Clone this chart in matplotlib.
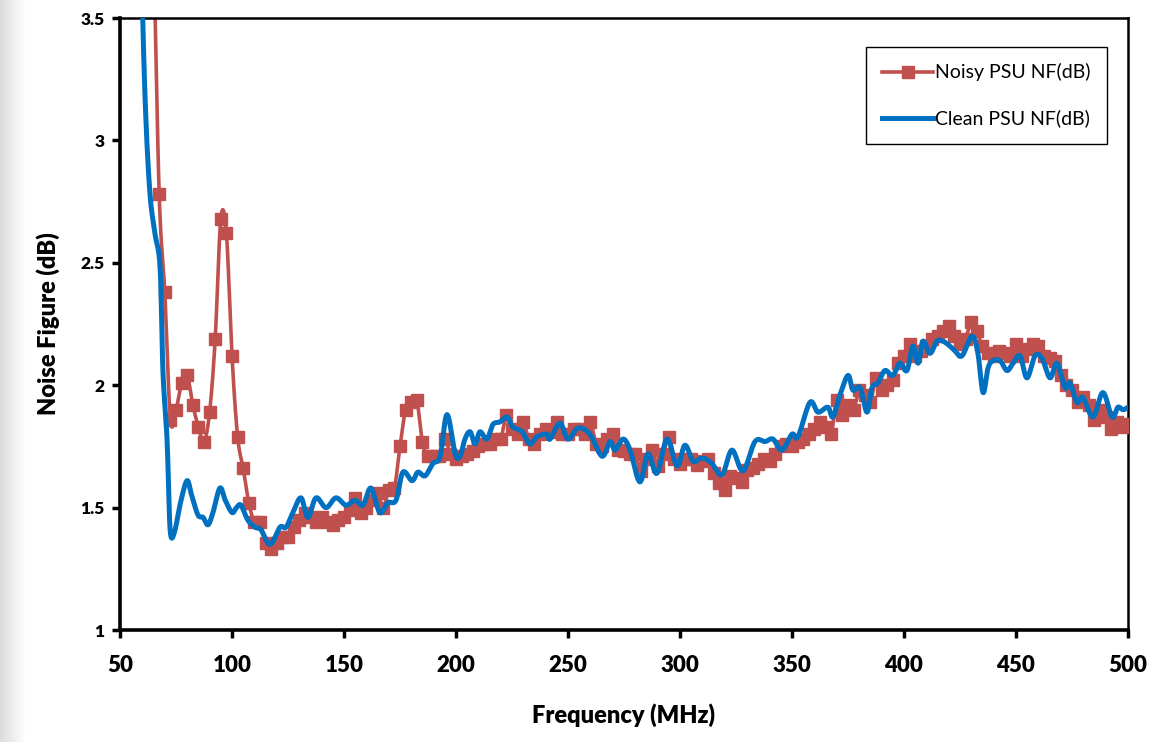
import numpy as np
import matplotlib
matplotlib.use("Agg")
import matplotlib.pyplot as plt
from matplotlib.lines import Line2D

# Noisy PSU: one reading every 2.5 MHz from 60 to 500 MHz
noisy_freq = np.arange(60, 502.5, 2.5)
noisy_nf = [
    6.0, 4.8, 3.8, 2.78, 2.38, 1.86, 1.90, 2.01, 2.04, 1.92,
    1.83, 1.77, 1.89, 2.19, 2.68, 2.62, 2.12, 1.79, 1.66, 1.52,
    1.44, 1.44, 1.355, 1.33, 1.355, 1.38, 1.38, 1.42, 1.45, 1.48,
    1.46, 1.44, 1.46, 1.44, 1.43, 1.45, 1.46, 1.49, 1.54, 1.48,
    1.50, 1.53, 1.56, 1.50, 1.57, 1.58, 1.75, 1.90, 1.93, 1.94,
    1.77, 1.71, 1.71, 1.71, 1.78, 1.72, 1.70, 1.71, 1.72, 1.73,
    1.75, 1.76, 1.76, 1.78, 1.78, 1.88, 1.82, 1.80, 1.85, 1.78,
    1.76, 1.80, 1.82, 1.81, 1.85, 1.80, 1.80, 1.82, 1.82, 1.80,
    1.85, 1.76, 1.75, 1.78, 1.80, 1.735, 1.73, 1.72, 1.72, 1.65,
    1.70, 1.735, 1.67, 1.72, 1.79, 1.70, 1.68, 1.70, 1.70, 1.675,
    1.69, 1.70, 1.64, 1.60, 1.57, 1.63, 1.62, 1.605, 1.655, 1.66,
    1.68, 1.70, 1.69, 1.72, 1.75, 1.76, 1.75, 1.77, 1.78, 1.80,
    1.82, 1.85, 1.83, 1.80, 1.94, 1.88, 1.92, 1.90, 1.98, 1.96,
    1.93, 2.03, 1.98, 2.00, 2.02, 2.09, 2.12, 2.17, 2.12, 2.14,
    2.16, 2.19, 2.20, 2.22, 2.24, 2.20, 2.17, 2.19, 2.26, 2.22,
    2.16, 2.13, 2.12, 2.14, 2.13, 2.12, 2.17, 2.12, 2.15, 2.17,
    2.16, 2.12, 2.11, 2.10, 2.04, 2.00, 1.98, 1.93, 1.95, 1.92,
    1.86, 1.90, 1.87, 1.82, 1.85, 1.83, 1.84,
]

# Clean PSU: turning points of the trace
clean_freq = [
    58, 60, 61.5, 63.4, 65.6, 67.9, 69.2, 71, 71.9, 72.8, 74.6, 77, 79.9,
    82, 84.8, 87.1, 89.3, 91.5, 94.6, 97, 100, 102, 104, 107, 110.3, 112.9,
    117, 121.4, 124.1, 127.2, 130.8, 133.9, 137.5, 142, 146.4, 150.9, 154.9,
    158.5, 162, 166, 169.6, 173.2, 176.3, 180.4, 183, 186.2, 189.7, 192.9,
    196, 199.6, 201.8, 204, 206.3, 208.5, 210.7, 213.8, 216.5, 219.6, 222.8,
    225.4, 229.5, 233, 236.2, 240.6, 242, 246.4, 250, 254.5, 259.8, 265.2,
    268.8, 271, 274.6, 277.7, 282.1, 285.7, 289.7, 294.2, 298.7, 302.2,
    305.8, 308.9, 311.2, 314.3, 318.8, 323.2, 328.1, 333.5, 338, 341.5,
    345.5, 350, 352.7, 358, 361.6, 366, 368.3, 371.4, 375, 377.2, 380.4,
    383.5, 385.7, 388.4, 391.5, 395, 398.2, 401.3, 404, 406.3, 408.5, 411.6,
    414.7, 417.4, 420.5, 422.8, 425.9, 430.4, 433, 435.3, 437.5, 439.7,
    442.9, 446, 448.7, 451.8, 454.9, 458.5, 461.6, 465.2, 468.3, 471.9,
    474.1, 477.2, 479.9, 484.4, 488.8, 492.9, 495.5, 497.8, 500,
]
clean_nf = [
    4.4, 3.55, 3.1, 2.78, 2.62, 2.48, 2.05, 1.78, 1.50, 1.38, 1.41, 1.52, 1.61,
    1.55, 1.47, 1.46, 1.43, 1.48, 1.58, 1.53, 1.48, 1.50, 1.51, 1.45, 1.42, 1.41,
    1.35, 1.42, 1.42, 1.48, 1.54, 1.46, 1.54, 1.50, 1.54, 1.51, 1.53,
    1.51, 1.58, 1.48, 1.52, 1.53, 1.645, 1.61, 1.645, 1.63, 1.68, 1.71,
    1.88, 1.72, 1.71, 1.78, 1.81, 1.76, 1.81, 1.78, 1.84, 1.85, 1.87,
    1.83, 1.81, 1.76, 1.79, 1.80, 1.78, 1.845, 1.78, 1.825, 1.80, 1.71,
    1.77, 1.735, 1.78, 1.735, 1.605, 1.72, 1.64, 1.78, 1.67, 1.755,
    1.69, 1.70, 1.70, 1.68, 1.635, 1.735, 1.65, 1.77, 1.77, 1.78,
    1.735, 1.80, 1.79, 1.93, 1.89, 1.91, 1.87, 1.96, 2.04, 1.98, 1.99,
    1.89, 1.99, 2.01, 2.06, 2.04, 2.09, 2.06, 2.16, 2.09, 2.18, 2.13,
    2.18, 2.18, 2.16, 2.14, 2.12, 2.20, 2.13, 1.97, 2.07, 2.10,
    2.10, 2.06, 2.09, 2.12, 2.03, 2.12, 2.11, 2.03, 2.09, 1.99,
    2.01, 1.93, 1.95, 1.87, 1.97, 1.87, 1.91, 1.90, 1.91,
]

x_ticks = [50, 100, 150, 200, 250, 300, 350, 400, 450, 500]
x_tick_labels = ["50", "100", "150", "200", "250", "300", "350", "400", "450", "500"]
y_ticks = [1, 1.5, 2, 2.5, 3, 3.5]
y_tick_labels = ["1", "1.5", "2", "2.5", "3", "3.5"]

RED = "#C0504D"
BLUE = "#0070C0"


def smooth(x, y, n=12):
    # Catmull-Rom curve through the points, like a spreadsheet "smoothed line"
    pts = np.column_stack([x, y]).astype(float)
    p = np.vstack([pts[0], pts, pts[-1]])
    t = np.linspace(0, 1, n, endpoint=False)[:, None]
    out = []
    for i in range(1, len(p) - 2):
        p0, p1, p2, p3 = p[i - 1], p[i], p[i + 1], p[i + 2]
        seg = 0.5 * (2 * p1 + (-p0 + p2) * t
                     + (2 * p0 - 5 * p1 + 4 * p2 - p3) * t ** 2
                     + (-p0 + 3 * p1 - 3 * p2 + p3) * t ** 3)
        out.append(seg)
    out.append(pts[-1:])
    c = np.vstack(out)
    return c[:, 0], c[:, 1]


plt.rcParams["font.family"] = ["Lato", "DejaVu Sans"]

fig = plt.figure(figsize=(11.55, 7.42), dpi=100)

# faint grey slide edge on the left
edge = fig.add_axes([0, 0, 0.022, 1])
edge.imshow(np.linspace(0.86, 1.0, 50)[None, :], cmap="gray", vmin=0, vmax=1,
            aspect="auto", extent=[0, 1, 0, 1])
edge.axis("off")

ax = fig.add_axes([0.1039, 0.1509, 0.8727, 0.8248])

sx, sy = smooth(noisy_freq, noisy_nf)
ax.plot(sx, sy, color=RED, lw=2.6, zorder=2)
ax.plot(noisy_freq, noisy_nf, ls="none", marker="s", ms=9,
        color=RED, mec=RED, zorder=3)

cx, cy = smooth(clean_freq, clean_nf)
ax.plot(cx, cy, color=BLUE, lw=3.6, zorder=4, solid_capstyle="round")

ax.set_xlim(50, 500)
ax.set_ylim(1, 3.5)
ax.set_xticks(x_ticks, labels=x_tick_labels, fontsize=16, fontweight="heavy")
ax.set_yticks(y_ticks, labels=y_tick_labels, fontsize=12.5, fontweight="heavy")

ax.tick_params(axis="x", direction="out", length=6, width=2.5, pad=12)
ax.tick_params(axis="y", direction="out", length=6, width=2.5, pad=5)

for side in ["left", "bottom"]:
    ax.spines[side].set_linewidth(2.6)
for side in ["top", "right"]:
    ax.spines[side].set_linewidth(1.8)

ax.set_xlabel("Frequency (MHz)", fontsize=17, fontweight="heavy", labelpad=20)
ax.set_ylabel("Noise Figure (dB)", fontsize=17, fontweight="heavy", labelpad=15)

handles = [
    Line2D([], [], color=RED, lw=2.6, marker="s", ms=9, mec=RED),
    Line2D([], [], color=BLUE, lw=3.6),
]
leg = ax.legend(handles, ["Noisy PSU NF(dB)", "Clean PSU NF(dB)"],
                loc="upper left", bbox_to_anchor=(0.74, 0.953),
                fontsize=14, frameon=True, fancybox=False, framealpha=1,
                edgecolor="black", labelspacing=1.45, handlelength=2.6,
                handletextpad=0.1, borderpad=0.85, borderaxespad=0)
leg.get_frame().set_linewidth(1.0)

fig.savefig("out.png", dpi=100, facecolor="white")
